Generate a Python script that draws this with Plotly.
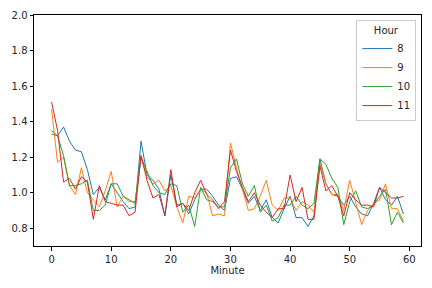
import plotly.graph_objects as go

minutes = list(range(60))

hour_8 = [1.35, 1.32, 1.37, 1.29, 1.24, 1.23, 1.13, 0.99, 1.03, 0.96,
          1.05, 1.00, 0.95, 0.91, 0.92, 1.29, 1.10, 1.07, 1.02, 0.87,
          1.10, 0.93, 0.94, 0.88, 0.96, 1.02, 1.02, 0.98, 0.93, 0.90,
          1.08, 1.09, 1.02, 0.94, 0.98, 0.90, 0.96, 0.86, 0.83, 0.91,
          0.98, 0.86, 0.86, 0.81, 0.87, 1.19, 1.05, 0.99, 0.98, 0.93,
          0.98, 0.92, 0.88, 0.87, 0.94, 1.03, 0.96, 0.93, 0.98, 0.88]
hour_9 = [1.47, 1.17, 1.20, 1.04, 0.99, 1.14, 1.00, 0.96, 0.92, 1.01,
          1.12, 0.92, 0.98, 0.95, 0.95, 1.20, 1.09, 1.05, 1.07, 1.01,
          1.04, 0.92, 0.83, 0.98, 0.97, 1.02, 1.00, 0.87, 0.88, 0.87,
          1.28, 1.14, 1.02, 0.90, 0.91, 0.98, 1.07, 0.93, 0.90, 0.97,
          0.97, 0.90, 0.95, 0.93, 0.89, 1.17, 1.05, 0.99, 0.99, 0.90,
          1.07, 0.95, 0.82, 0.90, 0.94, 0.96, 1.05, 0.91, 0.91, 0.84]
hour_10 = [1.33, 1.32, 1.21, 1.04, 1.04, 1.05, 1.07, 0.90, 0.90, 0.93,
           1.05, 1.05, 0.98, 0.96, 0.94, 1.20, 1.12, 1.04, 1.00, 0.99,
           1.05, 1.04, 0.89, 0.93, 0.81, 1.03, 0.96, 0.95, 0.92, 0.92,
           1.14, 1.19, 1.05, 0.98, 1.04, 0.89, 0.93, 0.84, 0.86, 0.93,
           0.93, 0.98, 0.93, 0.91, 0.94, 1.19, 1.16, 1.08, 1.03, 0.82,
           0.95, 1.01, 0.92, 0.91, 0.93, 0.98, 1.02, 0.82, 0.89, 0.83]
hour_11 = [1.51, 1.35, 1.06, 1.08, 1.02, 1.09, 1.06, 0.85, 1.04, 0.95,
           0.94, 0.93, 0.93, 0.87, 0.89, 1.21, 1.07, 0.97, 0.99, 0.87,
           1.13, 0.92, 0.94, 0.90, 1.00, 1.07, 0.99, 0.96, 0.91, 0.95,
           1.24, 1.12, 1.03, 0.95, 1.00, 0.93, 0.89, 0.86, 0.91, 0.91,
           1.10, 0.95, 1.03, 0.85, 0.85, 1.15, 1.01, 1.04, 0.98, 0.87,
           1.00, 0.96, 0.93, 0.93, 0.92, 1.03, 1.00, 0.97, 0.97, 0.98]

series_names = ["8", "9", "10", "11"]
series_values = [hour_8, hour_9, hour_10, hour_11]
colors = ["#1f77b4", "#ff7f0e", "#2ca02c", "#d62728"]

fig = go.Figure()
for name, vals, c in zip(series_names, series_values, colors):
    fig.add_trace(go.Scatter(x=minutes, y=vals, mode="lines", name=name,
                             line=dict(color=c, width=1)))

axis_common = dict(showline=True, mirror=True, linecolor="black", linewidth=1,
                   ticks="outside", ticklen=3.5, tickwidth=1, tickcolor="black",
                   showgrid=False, zeroline=False, automargin=False,
                   tickfont=dict(family="DejaVu Sans", size=10, color="#262626"))

fig.update_layout(
    width=432, height=288,
    margin=dict(l=34, r=11, t=15, b=42),
    paper_bgcolor="white", plot_bgcolor="white",
    font=dict(family="DejaVu Sans", size=10, color="#262626"),
    xaxis=dict(range=[-2.95, 61.95], tickvals=[0, 10, 20, 30, 40, 50, 60],
               title=dict(text="Minute", font=dict(size=10), standoff=2), **axis_common),
    yaxis=dict(range=[0.7, 2.0], tickvals=[0.8, 1.0, 1.2, 1.4, 1.6, 1.8, 2.0],
               tickformat=".1f", **axis_common),
    legend=dict(x=0.988, y=0.978, xanchor="right", yanchor="top",
                bgcolor="rgba(255,255,255,0.8)", bordercolor="#cccccc", borderwidth=1,
                title=dict(text="Hour", side="top center", font=dict(size=10)),
                font=dict(size=10), itemwidth=30, tracegroupgap=0),
    showlegend=True,
)

fig.write_html("out.html", config={"displayModeBar": False},
               post_script="document.body.style.margin='0';")
